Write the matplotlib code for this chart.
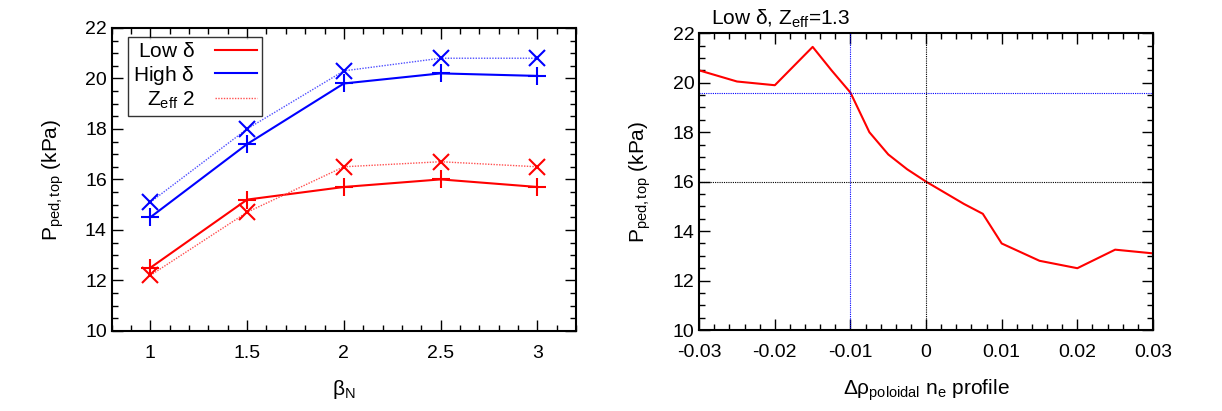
import matplotlib
matplotlib.use('Agg')
import matplotlib.pyplot as plt
from matplotlib.lines import Line2D
from matplotlib.ticker import MultipleLocator

plt.rcParams['font.family'] = ['Liberation Sans', 'DejaVu Sans']
plt.rcParams['mathtext.fontset'] = 'custom'
plt.rcParams['mathtext.rm'] = 'Liberation Sans'
plt.rcParams['mathtext.it'] = 'Liberation Sans'

# left panel: pedestal pressure vs beta_N
beta_n = [1, 1.5, 2, 2.5, 3]
low_delta = [12.5, 15.2, 15.7, 16.0, 15.7]
high_delta = [14.5, 17.4, 19.8, 20.2, 20.1]
low_delta_z2 = [12.2, 14.7, 16.5, 16.7, 16.5]
high_delta_z2 = [15.1, 18.0, 20.3, 20.8, 20.8]

# right panel: scan of ne profile shift
shift = [-0.03, -0.025, -0.02, -0.015, -0.0125, -0.01, -0.0075, -0.005, -0.0025,
         0.0, 0.005, 0.0075, 0.01, 0.015, 0.02, 0.025, 0.03]
p_top = [20.5, 20.05, 19.9, 21.45, 20.5, 19.6, 18.0, 17.1, 16.5,
         16.0, 15.1, 14.7, 13.5, 12.8, 12.5, 13.25, 13.1]
ref_shift = -0.01
ref_p = 19.6

fs = 14

fig = plt.figure(figsize=(12.22, 4.11), dpi=100)
ax1 = fig.add_axes([0.0914, 0.195, 0.380, 0.737])
ax2 = fig.add_axes([0.5722, 0.197, 0.3713, 0.722])

ax1.plot(beta_n, low_delta, color='red', lw=1.5, marker='+', ms=13, mew=1.5)
ax1.plot(beta_n, high_delta, color='blue', lw=1.5, marker='+', ms=13, mew=1.5)
ax1.plot(beta_n, low_delta_z2, color='#ff5050', lw=1, ls=(0, (1, 1)), marker='x', ms=12, mew=1.5,
         mec='red')
ax1.plot(beta_n, high_delta_z2, color='#5050ff', lw=1, ls=(0, (1, 1)), marker='x', ms=12, mew=1.5,
         mec='blue')

handles = [Line2D([], [], color='red', lw=1.5),
           Line2D([], [], color='blue', lw=1.5),
           Line2D([], [], color='#ff5050', lw=1, ls=(0, (1, 1)))]
labels = [r'Low $\delta$', r'High $\delta$', r'Z$_{\rm eff}$ 2']

ax1.set_xlim(0.8, 3.2)
ax1.set_ylim(10, 22)
ax1.set_xticks(beta_n)
ax1.set_xticklabels(['1', '1.5', '2', '2.5', '3'])
ax1.xaxis.set_minor_locator(MultipleLocator(0.1))
ax1.set_yticks(range(10, 23, 2))
ax1.yaxis.set_minor_locator(MultipleLocator(0.5))
ax1.set_xlabel(r'$\beta_{\rm N}$', fontsize=fs + 1, labelpad=12)
ax1.set_ylabel(r'P$_{\rm ped,top}$ (kPa)', fontsize=fs + 1, labelpad=14)

leg = ax1.legend(handles, labels, loc='upper left', bbox_to_anchor=(0.035, 0.97), markerfirst=False,
                 frameon=True, fancybox=False, fontsize=fs + 1, handlelength=2.0, handletextpad=1.0,
                 borderpad=0.25, labelspacing=0.12, borderaxespad=0)
leg.get_frame().set_edgecolor('black')
leg.get_frame().set_linewidth(1)
leg._legend_box.align = 'right'

ax2.plot(shift, p_top, color='red', lw=1.5)
ax2.axhline(ref_p, color='blue', lw=0.8, ls=(0, (1, 1)))
ax2.axvline(ref_shift, color='blue', lw=0.8, ls=(0, (1, 1)))
ax2.axhline(16, color='black', lw=0.8, ls=(0, (1, 1)))
ax2.axvline(0, color='black', lw=0.8, ls=(0, (1, 1)))
ax2.set_xlim(-0.03, 0.03)
ax2.set_ylim(10, 22)
ax2.set_xticks([-0.03, -0.02, -0.01, 0, 0.01, 0.02, 0.03])
ax2.set_xticklabels(['-0.03', '-0.02', '-0.01', '0', '0.01', '0.02', '0.03'])
ax2.xaxis.set_minor_locator(MultipleLocator(0.002))
ax2.set_yticks(range(10, 23, 2))
ax2.yaxis.set_minor_locator(MultipleLocator(0.5))
ax2.set_xlabel(r'$\Delta\rho_{\rm poloidal}$ n$_{\rm e}$ profile', fontsize=fs + 1, labelpad=12)
ax2.set_ylabel(r'P$_{\rm ped,top}$ (kPa)', fontsize=fs + 1, labelpad=14)
ax2.text(-0.0285, 22.15, r'Low $\delta$, Z$_{\rm eff}$=1.3', fontsize=fs + 1, ha='left', va='bottom')

for ax in (ax1, ax2):
    ax.tick_params(which='both', direction='in', top=True, right=True, labelsize=fs)
    ax.tick_params(which='major', length=8, width=1)
    ax.tick_params(which='minor', length=4, width=1)
    ax.tick_params(axis='x', pad=10)
    for s in ax.spines.values():
        s.set_linewidth(1.5)

fig.savefig('out.png', dpi=100)
